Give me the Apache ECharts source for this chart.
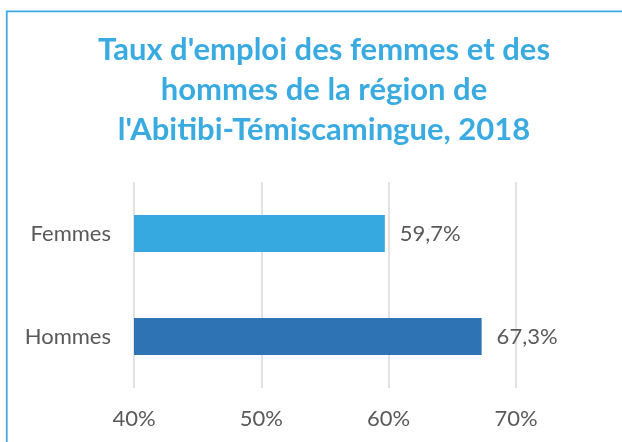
<!DOCTYPE html>
<html>
<head>
<meta charset="utf-8">
<script src="https://cdn.jsdelivr.net/npm/echarts@6/dist/echarts.min.js"></script>
<style>
  html, body { margin: 0; padding: 0; background: #fff; }
  #chart { width: 622px; height: 442px; }
</style>
</head>
<body>
<div id="chart"></div>
<script>
// données
var categories = ['Femmes', 'Hommes'];
var tauxEmploi = [59.7, 67.3];
var ticks = [40, 50, 60, 70];

var barColors = ['#36A9E0', '#2E74B5'];

var chart = echarts.init(document.getElementById('chart'));

var option = {
    backgroundColor: '#fff',
    title: {
        text: "Taux d'emploi des femmes et des\nhommes de la région de\nl'Abitibi-Témiscamingue, 2018",
        left: 319,
        top: 25,
        textAlign: 'center',
        textStyle: {
            fontFamily: 'Lato',
            fontSize: 31,
            fontWeight: 'bold',
            lineHeight: 40,
            color: '#3AABE1'
        }
    },
    graphic: [{
        // cadre du graphique
        type: 'rect',
        shape: { x: 6.75, y: 11.25, width: 700, height: 500 },
        style: { fill: 'none', stroke: '#3AABE1', lineWidth: 1.75 },
        silent: true
    }],
    grid: {
        left: 134,
        right: 106,
        top: 182,
        bottom: 54,
        containLabel: false
    },
    xAxis: {
        type: 'value',
        min: ticks[0],
        max: ticks[ticks.length - 1],
        interval: 10,
        axisLine: { show: false },
        axisTick: { show: false },
        splitLine: { lineStyle: { color: '#D9D9D9', width: 1.5 } },
        axisLabel: {
            formatter: '{value}%',
            margin: 20,
            fontFamily: 'Lato',
            fontSize: 22,
            color: '#595959'
        }
    },
    yAxis: {
        type: 'category',
        inverse: true,
        data: categories,
        axisLine: { show: false },
        axisTick: { show: false },
        axisLabel: {
            margin: 23,
            fontFamily: 'Lato',
            fontSize: 22,
            color: '#595959'
        }
    },
    series: [{
        type: 'bar',
        barWidth: 37,
        data: tauxEmploi.map(function (v, i) {
            return { value: v, itemStyle: { color: barColors[i] } };
        }),
        label: {
            show: true,
            position: 'right',
            distance: 15,
            fontFamily: 'Lato',
            fontSize: 22,
            color: '#595959',
            formatter: function (p) {
                return p.value.toFixed(1).replace('.', ',') + '%';
            }
        }
    }]
};

chart.setOption(option);
</script>
</body>
</html>
